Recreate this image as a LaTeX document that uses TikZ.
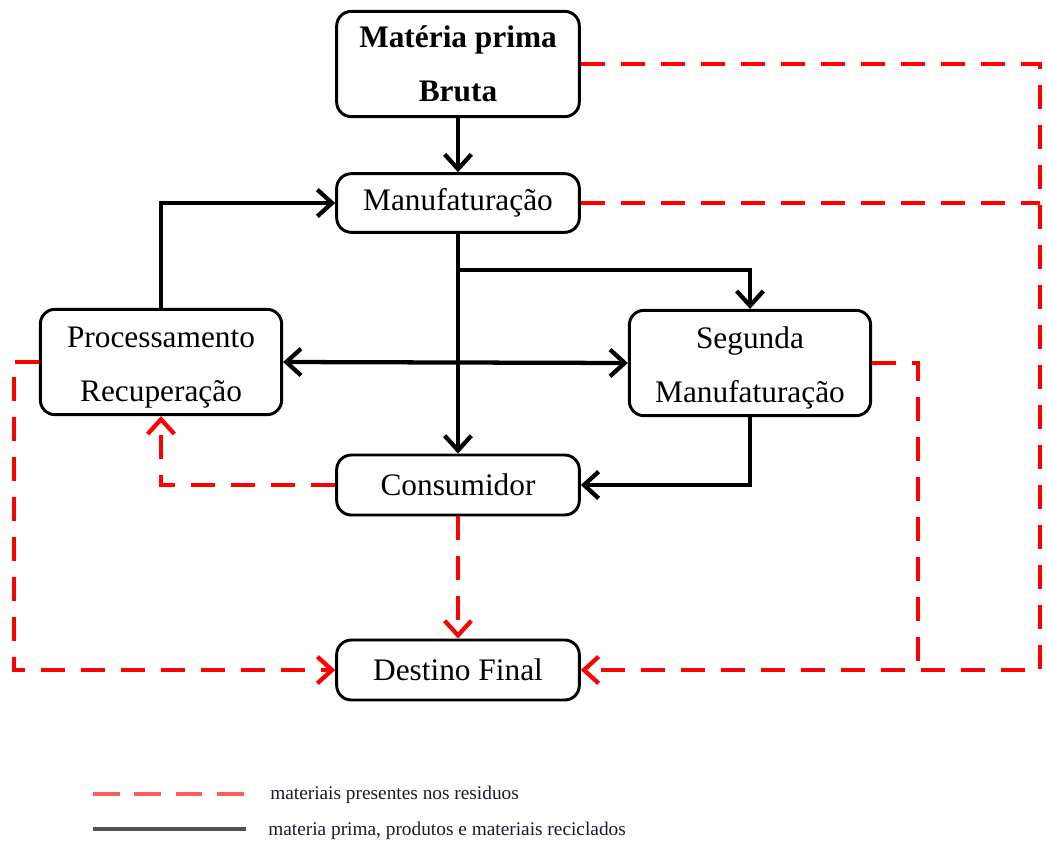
\documentclass[tikz,border=0pt]{standalone}
\usepackage{fontspec}
\setmainfont{Liberation Serif}
\usetikzlibrary{arrows.meta}
\definecolor{wastered}{HTML}{FF0000}
\definecolor{legendred}{HTML}{FF5C5C}
\definecolor{legendgrey}{HTML}{505050}
\definecolor{legendtext}{HTML}{1A1A33}
\newcommand{\boxfont}{\fontsize{23.5}{40.5}\selectfont}
\newcommand{\legendfont}{\fontsize{14.5}{17}\selectfont}
\newcommand{\firstline}{\rule{0pt}{24pt}}
\tikzset{
  stagebox/.style={draw,line width=2.2pt,rounded corners=11pt,align=center,
    inner sep=0pt,minimum width=182pt,font=\boxfont},
  barb/.tip={Straight Barb[length=11pt,width=20pt]},
  flow/.style={line width=3.2pt,-barb},
  wasteline/.style={wastered,line width=3.2pt,dash pattern=on 18pt off 12pt},
  waste/.style={wasteline,-barb}
}

\begin{document}
\begin{tikzpicture}[x=0.75pt,y=-0.75pt]
  \useasboundingbox (0,0) rectangle (1046,843);

  % Stages.
  \node[stagebox,minimum height=79pt] (bruta) at (458,64)
    {\bfseries Matéria prima\\\bfseries Bruta};
  \node[stagebox,minimum height=44pt] (manuf) at (458,203) {Manufaturação};
  \node[stagebox,minimum height=79pt,minimum width=181pt] (recup) at (161,362)
    {\firstline Processamento\\Recuperação};
  \node[stagebox,minimum height=79pt,minimum width=181pt] (segunda) at (750,363)
    {\firstline Segunda\\Manufaturação};
  \node[stagebox,minimum height=45pt] (consum) at (458,485) {Consumidor};
  \node[stagebox,minimum height=45pt] (destino) at (458,670) {Destino Final};

  \coordinate (split) at (458,270);
  \coordinate (leftdrop) at (14,670);
  \coordinate (segdrop) at (918,670);
  \coordinate (rightdrop) at (1040,670);

  % Materials and products.
  \draw[flow] (bruta) -- (manuf);
  \draw[flow] (recup.north) |- (manuf.west);
  \draw[flow] (manuf) -- (consum);
  \draw[flow] (split) -| (segunda.north);
  \draw[flow,barb-barb] (recup.east) -- (segunda.west);
  \draw[flow] (segunda.south) |- (consum.east);

  % Waste.
  \draw[waste] (consum.west) -| (recup.south);
  \draw[waste] (consum) -- (destino);
  \draw[waste] (recup.west) -| (leftdrop) -- (destino.west);
  \draw[wasteline] (segunda.east) -| (segdrop);
  \draw[waste] (bruta.east) -| (rightdrop) -- (destino.east);
  \draw[wasteline] (manuf.east) -- (manuf.east -| rightdrop);

  % Legend.
  \draw[legendred,line width=3pt,dash pattern=on 20pt off 11pt] (93,794) -- (246,794);
  \draw[legendgrey,line width=2.8pt] (93,829) -- (246,829);
  \node[anchor=west,inner sep=0pt,text=legendtext] (legwaste) at (270,795)
    {\legendfont materiais presentes nos residuos};
  \node[anchor=west,inner sep=0pt,text=legendtext] (legflow) at (268,831)
    {\legendfont materia prima, produtos e materiais reciclados};
\end{tikzpicture}
\end{document}
